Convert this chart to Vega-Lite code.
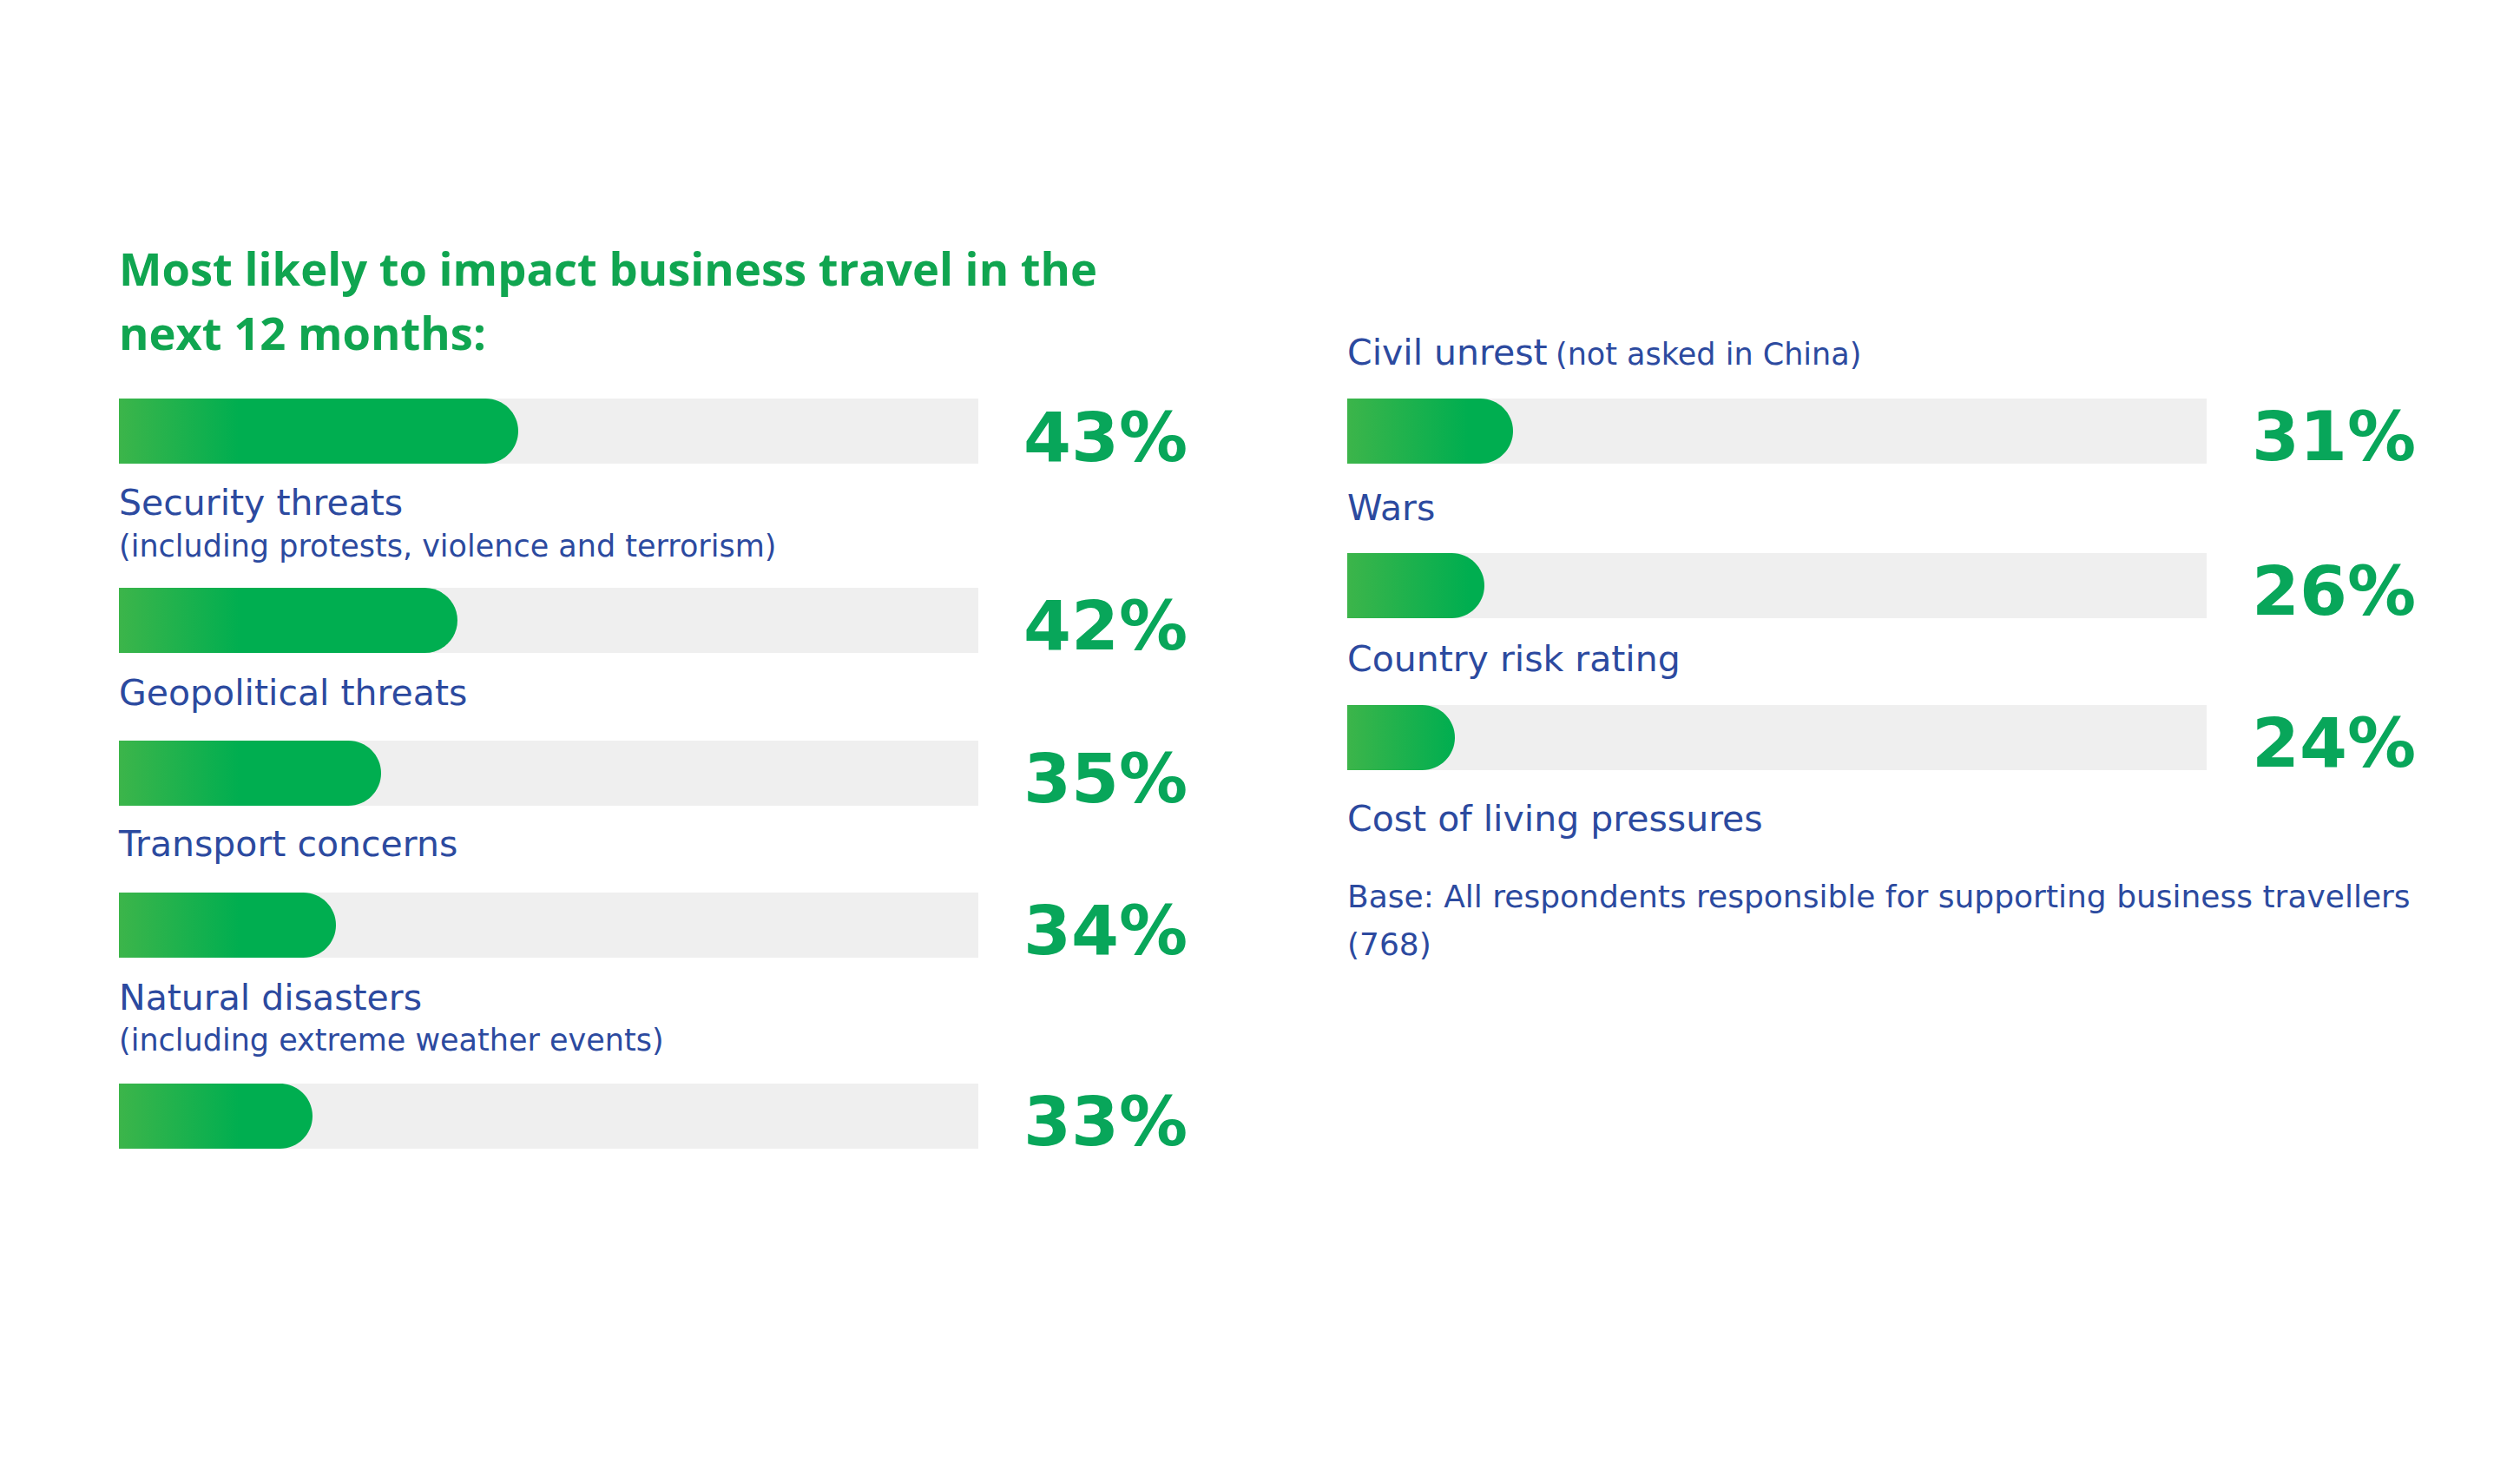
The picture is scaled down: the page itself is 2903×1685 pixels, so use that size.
{
  "$schema": "https://vega.github.io/schema/vega-lite/v6.json",
  "background": "#ffffff",
  "padding": {"left": 137, "top": 287, "right": 20, "bottom": 20},
  "config": {
    "view": {"stroke": null},
    "axis": {"disable": true},
    "text": {"font": "DejaVu Sans", "color": "#2C4A9F", "align": "left", "baseline": "alphabetic"}
  },
  "datasets": {
    "items": [
      {"item": "Security threats", "sub": "(including protests, violence and terrorism)", "value": 0.43},
      {"item": "Geopolitical threats", "sub": "", "value": 0.42},
      {"item": "Transport concerns", "sub": "", "value": 0.35},
      {"item": "Natural disasters", "sub": "(including extreme weather events)", "value": 0.34},
      {"item": "Civil unrest", "sub": "(not asked in China)", "value": 0.33},
      {"item": "Wars", "sub": "", "value": 0.31},
      {"item": "Country risk rating", "sub": "", "value": 0.26},
      {"item": "Cost of living pressures", "sub": "", "value": 0.24}
    ]
  },
  "data": {"name": "items"},
  "hconcat": [
    {
      "spacing": 0,
      "bounds": "flush",
      "vconcat": [
        {
          "width": 990, "height": 170,
          "transform": [{"filter": "datum.item === 'Security threats'"}],
          "mark": {"type": "text", "font": "Open Sans", "fontWeight": "bold", "fontSize": 52.5, "color": "#10A550", "dy": 40, "lineHeight": 74,
            "text": ["Most likely to impact business travel in the", "next 12 months:"]},
          "encoding": {
            "x": {"datum": 0, "type": "quantitative", "scale": {"domain": [0, 1], "nice": false}},
            "y": {"field": "item", "type": "nominal", "bandPosition": 0, "scale": {"paddingInner": 0, "paddingOuter": 0, "align": 0}}
          }
        },
        {
          "width": 990, "height": 218,
          "transform": [{"filter": "datum.item === 'Security threats'"}],
          "encoding": {"y": {"field": "item", "type": "nominal", "scale": {"paddingInner": 0, "paddingOuter": 0.9533, "align": 0}}},
          "layer": [
            {"mark": {"type": "rect", "color": "#EFEFEF"},
             "encoding": {"x": {"datum": 0, "type": "quantitative", "scale": {"type": "linear", "domain": [0, 0.24, 0.26, 0.31, 0.33, 0.34, 0.35, 0.42, 0.43, 1], "range": [0, 124, 158, 191, 223, 250, 302, 390, 460, 990], "zero": false, "nice": false}}, "x2": {"datum": 1}}},
            {"mark": {"type": "rect", "cornerRadiusTopRight": 37.5, "cornerRadiusBottomRight": 37.5,
               "color": {"gradient": "linear", "x1": 0, "x2": 1, "y1": 0, "y2": 0, "stops": [{"offset": 0, "color": "#3CB54A"}, {"offset": 0.3, "color": "#00AE50"}, {"offset": 1, "color": "#00AE50"}]}},
             "encoding": {"x": {"field": "value", "type": "quantitative"}, "x2": {"datum": 0}}},
            {"mark": {"type": "text", "font": "DejaVu Sans", "fontWeight": "bold", "fontSize": 79, "color": "#08A65A", "dx": 52, "dy": 72},
             "encoding": {"x": {"datum": 1, "type": "quantitative"}, "y": {"field": "item", "type": "nominal", "bandPosition": 0}, "text": {"field": "value", "type": "quantitative", "format": ".0%"}}},
            {"mark": {"type": "text", "fontSize": 41, "dy": 134},
             "encoding": {"x": {"datum": 0, "type": "quantitative"}, "y": {"field": "item", "type": "nominal", "bandPosition": 0}, "text": {"field": "item"}}},
            {"mark": {"type": "text", "fontSize": 35, "dy": 182},
             "encoding": {"x": {"datum": 0, "type": "quantitative"}, "y": {"field": "item", "type": "nominal", "bandPosition": 0}, "text": {"field": "sub"}}}
          ]
        },
        {
          "width": 990, "height": 176,
          "transform": [{"filter": "datum.item === 'Geopolitical threats'"}],
          "encoding": {"y": {"field": "item", "type": "nominal", "scale": {"paddingInner": 0, "paddingOuter": 0.6733, "align": 0}}},
          "layer": [
            {"mark": {"type": "rect", "color": "#EFEFEF"},
             "encoding": {"x": {"datum": 0, "type": "quantitative", "scale": {"type": "linear", "domain": [0, 0.24, 0.26, 0.31, 0.33, 0.34, 0.35, 0.42, 0.43, 1], "range": [0, 124, 158, 191, 223, 250, 302, 390, 460, 990], "zero": false, "nice": false}}, "x2": {"datum": 1}}},
            {"mark": {"type": "rect", "cornerRadiusTopRight": 37.5, "cornerRadiusBottomRight": 37.5,
               "color": {"gradient": "linear", "x1": 0, "x2": 1, "y1": 0, "y2": 0, "stops": [{"offset": 0, "color": "#3CB54A"}, {"offset": 0.36, "color": "#00AE50"}, {"offset": 1, "color": "#00AE50"}]}},
             "encoding": {"x": {"field": "value", "type": "quantitative"}, "x2": {"datum": 0}}},
            {"mark": {"type": "text", "font": "DejaVu Sans", "fontWeight": "bold", "fontSize": 79, "color": "#08A65A", "dx": 52, "dy": 71},
             "encoding": {"x": {"datum": 1, "type": "quantitative"}, "y": {"field": "item", "type": "nominal", "bandPosition": 0}, "text": {"field": "value", "type": "quantitative", "format": ".0%"}}},
            {"mark": {"type": "text", "fontSize": 41, "dy": 135},
             "encoding": {"x": {"datum": 0, "type": "quantitative"}, "y": {"field": "item", "type": "nominal", "bandPosition": 0}, "text": {"field": "item"}}}
          ]
        },
        {
          "width": 990, "height": 175,
          "transform": [{"filter": "datum.item === 'Transport concerns'"}],
          "encoding": {"y": {"field": "item", "type": "nominal", "scale": {"paddingInner": 0, "paddingOuter": 0.6667, "align": 0}}},
          "layer": [
            {"mark": {"type": "rect", "color": "#EFEFEF"},
             "encoding": {"x": {"datum": 0, "type": "quantitative", "scale": {"type": "linear", "domain": [0, 0.24, 0.26, 0.31, 0.33, 0.34, 0.35, 0.42, 0.43, 1], "range": [0, 124, 158, 191, 223, 250, 302, 390, 460, 990], "zero": false, "nice": false}}, "x2": {"datum": 1}}},
            {"mark": {"type": "rect", "cornerRadiusTopRight": 37.5, "cornerRadiusBottomRight": 37.5,
               "color": {"gradient": "linear", "x1": 0, "x2": 1, "y1": 0, "y2": 0, "stops": [{"offset": 0, "color": "#3CB54A"}, {"offset": 0.46, "color": "#00AE50"}, {"offset": 1, "color": "#00AE50"}]}},
             "encoding": {"x": {"field": "value", "type": "quantitative"}, "x2": {"datum": 0}}},
            {"mark": {"type": "text", "font": "DejaVu Sans", "fontWeight": "bold", "fontSize": 79, "color": "#08A65A", "dx": 52, "dy": 71},
             "encoding": {"x": {"datum": 1, "type": "quantitative"}, "y": {"field": "item", "type": "nominal", "bandPosition": 0}, "text": {"field": "value", "type": "quantitative", "format": ".0%"}}},
            {"mark": {"type": "text", "fontSize": 41, "dy": 133},
             "encoding": {"x": {"datum": 0, "type": "quantitative"}, "y": {"field": "item", "type": "nominal", "bandPosition": 0}, "text": {"field": "item"}}}
          ]
        },
        {
          "width": 990, "height": 220,
          "transform": [{"filter": "datum.item === 'Natural disasters'"}],
          "encoding": {"y": {"field": "item", "type": "nominal", "scale": {"paddingInner": 0, "paddingOuter": 0.9667, "align": 0}}},
          "layer": [
            {"mark": {"type": "rect", "color": "#EFEFEF"},
             "encoding": {"x": {"datum": 0, "type": "quantitative", "scale": {"type": "linear", "domain": [0, 0.24, 0.26, 0.31, 0.33, 0.34, 0.35, 0.42, 0.43, 1], "range": [0, 124, 158, 191, 223, 250, 302, 390, 460, 990], "zero": false, "nice": false}}, "x2": {"datum": 1}}},
            {"mark": {"type": "rect", "cornerRadiusTopRight": 37.5, "cornerRadiusBottomRight": 37.5,
               "color": {"gradient": "linear", "x1": 0, "x2": 1, "y1": 0, "y2": 0, "stops": [{"offset": 0, "color": "#3CB54A"}, {"offset": 0.56, "color": "#00AE50"}, {"offset": 1, "color": "#00AE50"}]}},
             "encoding": {"x": {"field": "value", "type": "quantitative"}, "x2": {"datum": 0}}},
            {"mark": {"type": "text", "font": "DejaVu Sans", "fontWeight": "bold", "fontSize": 79, "color": "#08A65A", "dx": 52, "dy": 71},
             "encoding": {"x": {"datum": 1, "type": "quantitative"}, "y": {"field": "item", "type": "nominal", "bandPosition": 0}, "text": {"field": "value", "type": "quantitative", "format": ".0%"}}},
            {"mark": {"type": "text", "fontSize": 41, "dy": 135},
             "encoding": {"x": {"datum": 0, "type": "quantitative"}, "y": {"field": "item", "type": "nominal", "bandPosition": 0}, "text": {"field": "item"}}},
            {"mark": {"type": "text", "fontSize": 35, "dy": 182},
             "encoding": {"x": {"datum": 0, "type": "quantitative"}, "y": {"field": "item", "type": "nominal", "bandPosition": 0}, "text": {"field": "sub"}}}
          ]
        },
        {
          "width": 990, "height": 75,
          "transform": [{"filter": "datum.item === 'Civil unrest'"}],
          "encoding": {"y": {"field": "item", "type": "nominal", "scale": {"paddingInner": 0, "paddingOuter": 0, "align": 0}}},
          "layer": [
            {"mark": {"type": "rect", "color": "#EFEFEF"},
             "encoding": {"x": {"datum": 0, "type": "quantitative", "scale": {"type": "linear", "domain": [0, 0.24, 0.26, 0.31, 0.33, 0.34, 0.35, 0.42, 0.43, 1], "range": [0, 124, 158, 191, 223, 250, 302, 390, 460, 990], "zero": false, "nice": false}}, "x2": {"datum": 1}}},
            {"mark": {"type": "rect", "cornerRadiusTopRight": 37.5, "cornerRadiusBottomRight": 37.5,
               "color": {"gradient": "linear", "x1": 0, "x2": 1, "y1": 0, "y2": 0, "stops": [{"offset": 0, "color": "#3CB54A"}, {"offset": 0.63, "color": "#00AE50"}, {"offset": 1, "color": "#00AE50"}]}},
             "encoding": {"x": {"field": "value", "type": "quantitative"}, "x2": {"datum": 0}}},
            {"mark": {"type": "text", "font": "DejaVu Sans", "fontWeight": "bold", "fontSize": 79, "color": "#08A65A", "dx": 52, "dy": 71},
             "encoding": {"x": {"datum": 1, "type": "quantitative"}, "y": {"field": "item", "type": "nominal", "bandPosition": 0}, "text": {"field": "value", "type": "quantitative", "format": ".0%"}}}
          ]
        }
      ]
    },
    {
      "spacing": 0,
      "bounds": "flush",
      "vconcat": [
        {
          "width": 990, "height": 170,
          "transform": [{"filter": "datum.item === 'Civil unrest'"}],
          "encoding": {
            "x": {"datum": 0, "type": "quantitative", "scale": {"domain": [0, 1], "nice": false}},
            "y": {"field": "item", "type": "nominal", "bandPosition": 0, "scale": {"paddingInner": 0, "paddingOuter": 0, "align": 0}}
          },
          "layer": [
            {"mark": {"type": "text", "fontSize": 41, "dy": 131}, "encoding": {"text": {"field": "item"}}},
            {"mark": {"type": "text", "fontSize": 35, "dy": 131, "dx": 240}, "encoding": {"text": {"field": "sub"}}}
          ]
        },
        {
          "width": 990, "height": 178,
          "transform": [{"filter": "datum.item === 'Wars'"}],
          "encoding": {"y": {"field": "item", "type": "nominal", "scale": {"paddingInner": 0, "paddingOuter": 0.6867, "align": 0}}},
          "layer": [
            {"mark": {"type": "rect", "color": "#EFEFEF"},
             "encoding": {"x": {"datum": 0, "type": "quantitative", "scale": {"type": "linear", "domain": [0, 0.24, 0.26, 0.31, 0.33, 0.34, 0.35, 0.42, 0.43, 1], "range": [0, 124, 158, 191, 223, 250, 302, 390, 460, 990], "zero": false, "nice": false}}, "x2": {"datum": 1}}},
            {"mark": {"type": "rect", "cornerRadiusTopRight": 37.5, "cornerRadiusBottomRight": 37.5,
               "color": {"gradient": "linear", "x1": 0, "x2": 1, "y1": 0, "y2": 0, "stops": [{"offset": 0, "color": "#3CB54A"}, {"offset": 0.73, "color": "#00AE50"}, {"offset": 1, "color": "#00AE50"}]}},
             "encoding": {"x": {"field": "value", "type": "quantitative"}, "x2": {"datum": 0}}},
            {"mark": {"type": "text", "font": "DejaVu Sans", "fontWeight": "bold", "fontSize": 79, "color": "#08A65A", "dx": 52, "dy": 71},
             "encoding": {"x": {"datum": 1, "type": "quantitative"}, "y": {"field": "item", "type": "nominal", "bandPosition": 0}, "text": {"field": "value", "type": "quantitative", "format": ".0%"}}},
            {"mark": {"type": "text", "fontSize": 41, "dy": 140},
             "encoding": {"x": {"datum": 0, "type": "quantitative"}, "y": {"field": "item", "type": "nominal", "bandPosition": 0}, "text": {"field": "item"}}}
          ]
        },
        {
          "width": 990, "height": 175,
          "transform": [{"filter": "datum.item === 'Country risk rating'"}],
          "encoding": {"y": {"field": "item", "type": "nominal", "scale": {"paddingInner": 0, "paddingOuter": 0.6667, "align": 0}}},
          "layer": [
            {"mark": {"type": "rect", "color": "#EFEFEF"},
             "encoding": {"x": {"datum": 0, "type": "quantitative", "scale": {"type": "linear", "domain": [0, 0.24, 0.26, 0.31, 0.33, 0.34, 0.35, 0.42, 0.43, 1], "range": [0, 124, 158, 191, 223, 250, 302, 390, 460, 990], "zero": false, "nice": false}}, "x2": {"datum": 1}}},
            {"mark": {"type": "rect", "cornerRadiusTopRight": 37.5, "cornerRadiusBottomRight": 37.5,
               "color": {"gradient": "linear", "x1": 0, "x2": 1, "y1": 0, "y2": 0, "stops": [{"offset": 0, "color": "#3CB54A"}, {"offset": 0.89, "color": "#00AE50"}, {"offset": 1, "color": "#00AE50"}]}},
             "encoding": {"x": {"field": "value", "type": "quantitative"}, "x2": {"datum": 0}}},
            {"mark": {"type": "text", "font": "DejaVu Sans", "fontWeight": "bold", "fontSize": 79, "color": "#08A65A", "dx": 52, "dy": 71},
             "encoding": {"x": {"datum": 1, "type": "quantitative"}, "y": {"field": "item", "type": "nominal", "bandPosition": 0}, "text": {"field": "value", "type": "quantitative", "format": ".0%"}}},
            {"mark": {"type": "text", "fontSize": 41, "dy": 136},
             "encoding": {"x": {"datum": 0, "type": "quantitative"}, "y": {"field": "item", "type": "nominal", "bandPosition": 0}, "text": {"field": "item"}}}
          ]
        },
        {
          "width": 990, "height": 75,
          "transform": [{"filter": "datum.item === 'Cost of living pressures'"}],
          "encoding": {"y": {"field": "item", "type": "nominal", "scale": {"paddingInner": 0, "paddingOuter": 0, "align": 0}}},
          "layer": [
            {"mark": {"type": "rect", "color": "#EFEFEF"},
             "encoding": {"x": {"datum": 0, "type": "quantitative", "scale": {"type": "linear", "domain": [0, 0.24, 0.26, 0.31, 0.33, 0.34, 0.35, 0.42, 0.43, 1], "range": [0, 124, 158, 191, 223, 250, 302, 390, 460, 990], "zero": false, "nice": false}}, "x2": {"datum": 1}}},
            {"mark": {"type": "rect", "cornerRadiusTopRight": 37.5, "cornerRadiusBottomRight": 37.5,
               "color": {"gradient": "linear", "x1": 0, "x2": 1, "y1": 0, "y2": 0, "stops": [{"offset": 0, "color": "#3CB54A"}, {"offset": 1, "color": "#00AE50"}]}},
             "encoding": {"x": {"field": "value", "type": "quantitative"}, "x2": {"datum": 0}}},
            {"mark": {"type": "text", "font": "DejaVu Sans", "fontWeight": "bold", "fontSize": 79, "color": "#08A65A", "dx": 52, "dy": 71},
             "encoding": {"x": {"datum": 1, "type": "quantitative"}, "y": {"field": "item", "type": "nominal", "bandPosition": 0}, "text": {"field": "value", "type": "quantitative", "format": ".0%"}}},
            {"mark": {"type": "text", "fontSize": 41, "dy": 145},
             "encoding": {"x": {"datum": 0, "type": "quantitative"}, "y": {"field": "item", "type": "nominal", "bandPosition": 0}, "text": {"field": "item"}}},
            {"mark": {"type": "text", "fontSize": 36, "dy": 233, "lineHeight": 55,
               "text": ["Base: All respondents responsible for supporting business travellers", "(768)"]},
             "encoding": {"x": {"datum": 0, "type": "quantitative"}, "y": {"field": "item", "type": "nominal", "bandPosition": 0}}}
          ]
        }
      ]
    }
  ],
  "spacing": 1415,
  "bounds": "flush"
}
